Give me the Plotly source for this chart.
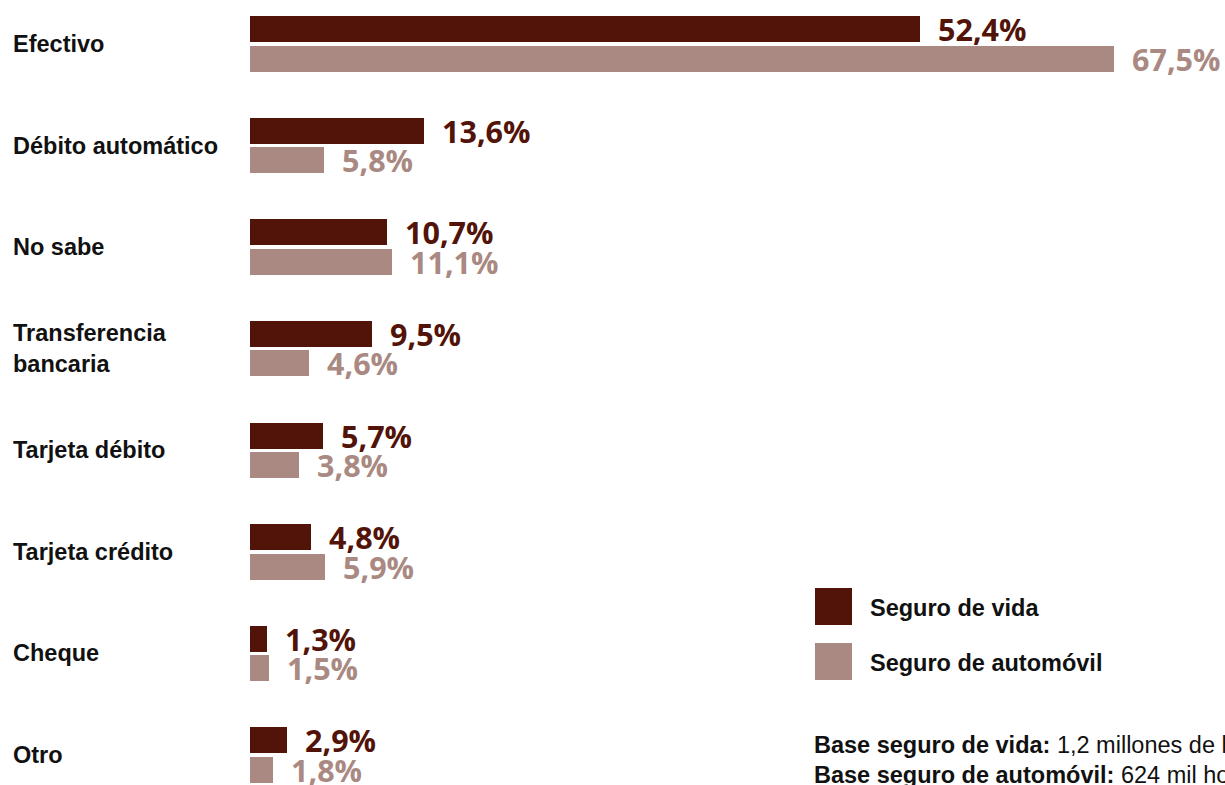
import plotly.graph_objects as go

# Medio de pago del seguro, % de hogares
categorias = ["Efectivo", "Débito automático", "No sabe", "Transferencia<br>bancaria",
              "Tarjeta débito", "Tarjeta crédito", "Cheque", "Otro"]
seguro_vida = [52.4, 13.6, 10.7, 9.5, 5.7, 4.8, 1.3, 2.9]
seguro_auto = [67.5, 5.8, 11.1, 4.6, 3.8, 5.9, 1.5, 1.8]
series_nombres = ["Seguro de vida", "Seguro de automóvil"]

W, H = 1225, 785
OSCURO = "#521309"
CLARO = "#a98982"
TEXTO = "#111111"

def etiqueta(v):
    return f"{v:.1f}".replace(".", ",") + "%"

pos = list(range(len(categorias)))
fig = go.Figure()
for vals, color, desplaz, nombre in [(seguro_vida, OSCURO, -0.145, series_nombres[0]),
                                     (seguro_auto, CLARO, 0.145, series_nombres[1])]:
    fig.add_trace(go.Bar(
        x=vals, y=[p + desplaz for p in pos], orientation="h",
        width=0.256, marker=dict(color=color, line=dict(width=0)),
        name=nombre, showlegend=False, hoverinfo="skip",
    ))
    for v, p in zip(vals, pos):
        fig.add_annotation(x=v, y=p + desplaz, xref="x", yref="y",
                           text=f"<b>{etiqueta(v)}</b>", showarrow=False,
                           xanchor="left", yanchor="middle", xshift=16, yshift=0,
                           font=dict(family="Open Sans", size=30.5, color=color))

# Etiquetas de categoría
for c, p in zip(categorias, pos):
    fig.add_annotation(x=11 / W, y=p, xref="paper", yref="y", text=f"<b>{c}</b>",
                       showarrow=False, xanchor="left", yanchor="middle", align="left",
                       font=dict(family="Liberation Sans", size=23.5, color=TEXTO))

# Leyenda
for i, (nombre, color) in enumerate(zip(series_nombres, [OSCURO, CLARO])):
    top = 588 + i * 55
    fig.add_shape(type="rect", xref="paper", yref="paper",
                  x0=815 / W, x1=852 / W, y0=1 - (top + 37) / H, y1=1 - top / H,
                  fillcolor=color, line=dict(width=0))
    fig.add_annotation(x=868 / W, y=1 - (top + 20) / H, xref="paper", yref="paper",
                       text=f"<b>{nombre}</b>", showarrow=False, xanchor="left",
                       yanchor="middle", font=dict(family="Liberation Sans", size=23.5, color=TEXTO))

# Bases
bases = [("Base seguro de vida:", "1,2 millones de hogares"),
         ("Base seguro de automóvil:", "624 mil hogares")]
for i, (b, t) in enumerate(bases):
    fig.add_annotation(x=812 / W, y=1 - (745 + i * 30) / H, xref="paper", yref="paper",
                       text=f"<b>{b}</b> {t}", showarrow=False, xanchor="left",
                       yanchor="middle", font=dict(family="Liberation Sans", size=23.5, color=TEXTO))

fig.update_layout(
    width=W, height=H, margin=dict(l=0, r=0, t=0, b=0),
    paper_bgcolor="white", plot_bgcolor="white",
    xaxis=dict(domain=[250 / W, 1], range=[0, 76.2], visible=False, fixedrange=True),
    yaxis=dict(range=[7.295, -0.433], visible=False, fixedrange=True),
    bargap=0, barmode="overlay",
)
fig.write_html("out.html")
